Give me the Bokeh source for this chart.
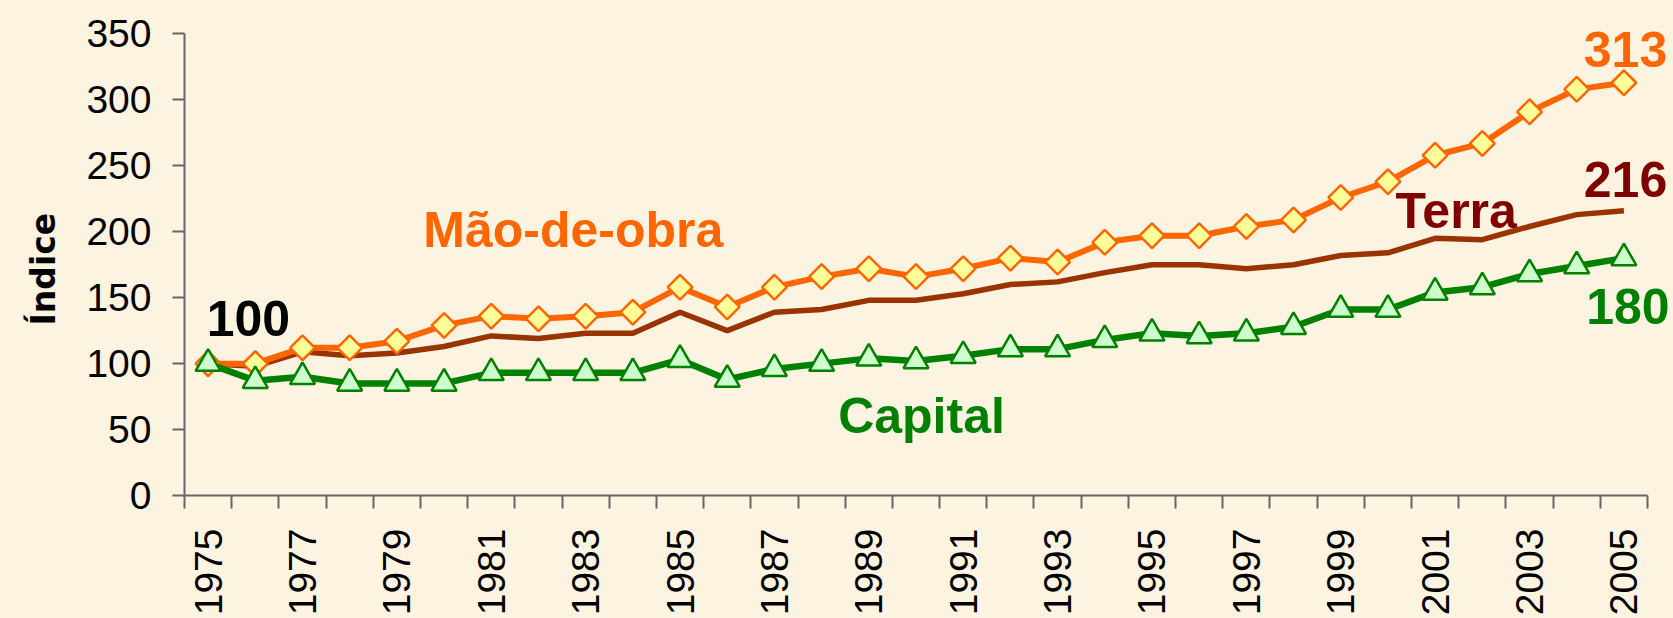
import math
from bokeh.plotting import figure
from bokeh.models import FixedTicker, Label, Title
from bokeh.embed import file_html
from bokeh.resources import INLINE

# ---- data ----
years = list(range(1975, 2006))
mao_de_obra = [100, 100, 112, 112, 117, 129, 136, 134, 136, 139, 158, 143, 158, 166, 172, 166,
               172, 180, 177, 192, 197, 197, 204, 209, 226, 238, 258, 267, 291, 308, 313]
terra = [100, 98, 109, 106, 108, 113, 121, 119, 123, 123, 139, 125, 139, 141, 148, 148,
         153, 160, 162, 169, 175, 175, 172, 175, 182, 184, 195, 194, 204, 213, 216]
capital = [100, 87, 90, 85, 85, 85, 93, 93, 93, 93, 103, 88, 96, 100, 104, 102,
           106, 111, 111, 118, 123, 121, 123, 128, 141, 141, 154, 158, 168, 174, 180]
y_ticks = [0, 50, 100, 150, 200, 250, 300, 350]
x_label_years = list(range(1975, 2006, 2))

BG = "#FCF3E0"
AX = "#666666"
FONT = "Liberation Sans"

W, H = 1673, 618
LEFT, BOTTOM = 184, 121
frame_w = W - LEFT
frame_h = H - BOTTOM
px_per_year = 1463 / 31.0           # plotted axis spans 31 categories
px_per_unit = 463.4 / 350.0         # 0..350 spans ~463 px
x_start = years[0] - 0.5
x_end = x_start + frame_w / px_per_year
y_end = frame_h / px_per_unit

p = figure(width=W, height=H, output_backend="svg", toolbar_location=None,
           x_range=(x_start, x_end), y_range=(0, y_end),
           min_border_left=LEFT, min_border_right=0, min_border_top=0, min_border_bottom=BOTTOM)
p.background_fill_color = BG
p.border_fill_color = BG
p.outline_line_color = None
p.grid.visible = False

# y axis
ya = p.yaxis[0]
ya.bounds = (0, 350)
ya.ticker = FixedTicker(ticks=y_ticks)
ya.major_tick_out = 12
ya.major_tick_in = 0
ya.minor_tick_out = 0
ya.minor_tick_in = 0
ya.axis_line_color = AX
ya.axis_line_width = 2
ya.major_tick_line_color = AX
ya.major_tick_line_width = 2
ya.major_label_text_font = FONT
ya.major_label_text_font_size = "39px"
ya.major_label_text_color = "black"
ya.major_label_standoff = 21

# y axis title (side title so it can sit off-centre like the original)
p.add_layout(Title(text="Índice", align="left", offset=170, standoff=40, vertical_align="middle",
                   text_font="DejaVu Sans", text_font_style="bold", text_font_size="33px",
                   text_color="black"), "left")

# x axis
xa = p.xaxis[0]
xa.bounds = (years[0] - 0.5, years[-1] + 0.5)
xa.ticker = FixedTicker(ticks=x_label_years, minor_ticks=[y - 0.5 for y in years] + [years[-1] + 0.5])
xa.major_tick_out = 0
xa.major_tick_in = 0
xa.minor_tick_out = 13
xa.minor_tick_in = 0
xa.minor_tick_line_color = AX
xa.minor_tick_line_width = 2
xa.axis_line_color = AX
xa.axis_line_width = 2
xa.major_label_orientation = math.pi / 2
xa.major_label_text_font = FONT
xa.major_label_text_font_size = "39px"
xa.major_label_text_color = "black"
xa.major_label_standoff = 20

# series
p.line(years, terra, line_color="#993300", line_width=5.5)
p.line(years, mao_de_obra, line_color="#FF6600", line_width=6)
p.scatter(years, mao_de_obra, marker="square", size=17.5, angle=math.pi / 4,
          fill_color="#FFFF99", line_color="#FF6600", line_width=2.5)
p.line(years, capital, line_color="#008000", line_width=6.5)
p.scatter(years, capital, marker="triangle", size=25,
          fill_color="#CCFFCC", line_color="#008000", line_width=2.5)

LIFT = 12.1  # label baseline correction (data units)

def lab(text, x, y, color, size="50px"):
    p.add_layout(Label(x=x, y=y + LIFT, text=text, text_color=color, text_font=FONT,
                       text_font_style="bold", text_font_size=size,
                       text_baseline="alphabetic"))

lab("Mão-de-obra", 1979.56, 189.3, "#FF6600")
lab("Capital", 1988.35, 47.9, "#008000")
lab("Terra", 2000.16, 203.9, "#800000")
lab(str(mao_de_obra[-1]), 2004.15, 326, "#FF6600")
lab(str(terra[-1]), 2004.15, 227.9, "#800000")
lab(str(capital[-1]), 2004.2, 131.4, "#008000")
lab(str(mao_de_obra[0]), 1974.97, 122.1, "black")

html = file_html(p, INLINE)
html = html.replace("</head>", "<style>body{background-color:%s;}</style></head>" % BG, 1)
open("out.html", "w").write(html)
